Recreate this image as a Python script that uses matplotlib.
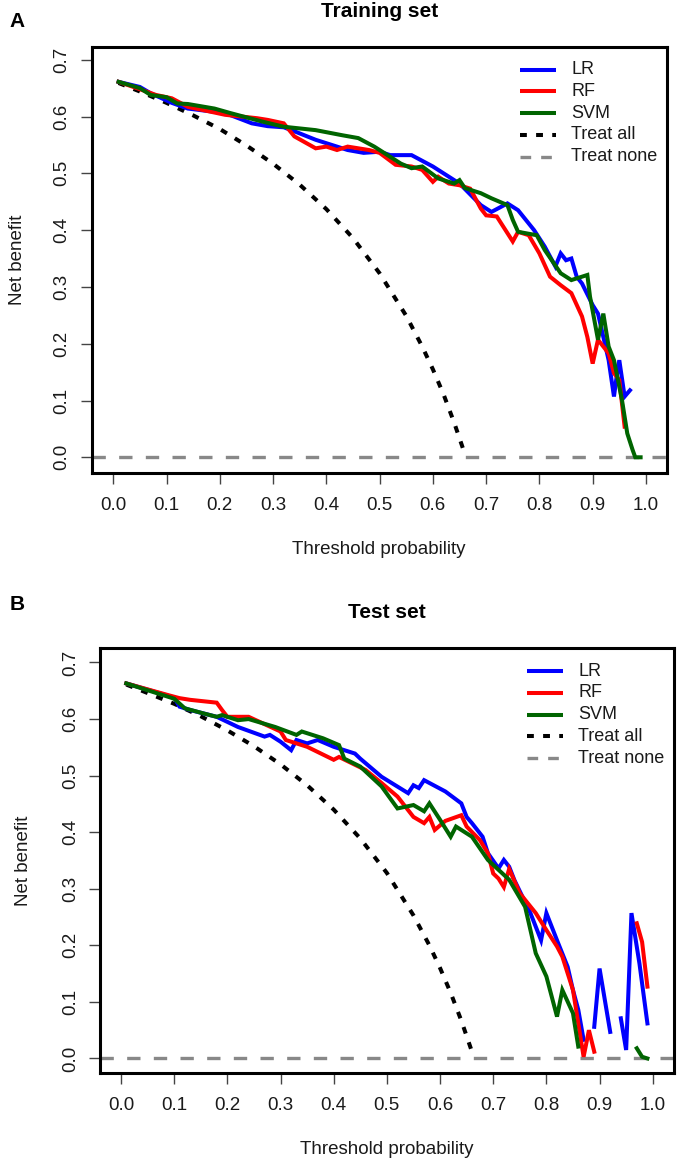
import numpy as np
import matplotlib
matplotlib.use("Agg")
import matplotlib.pyplot as plt

plt.rcParams['font.family'] = ['Liberation Sans', 'DejaVu Sans']

nan = np.nan

# ---------------- Training set ----------------
train_lr_x = [0.01, 0.05, 0.07, 0.11, 0.14, 0.21, 0.26, 0.29, 0.32, 0.34, 0.38, 0.42, 0.44, 0.47, 0.50,
              0.52, 0.56, 0.60, 0.63, 0.65, 0.69, 0.71, 0.74, 0.76, 0.79, 0.81, 0.83, 0.84, 0.85, 0.86,
              0.87, 0.88, 0.90, 0.91, 0.92, 0.93, 0.94, 0.945, 0.95, 0.96, 0.97]
train_lr_y = [0.661, 0.652, 0.641, 0.624, 0.614, 0.606, 0.588, 0.583, 0.581, 0.574, 0.559, 0.547, 0.541, 0.536, 0.538,
              0.532, 0.532, 0.512, 0.494, 0.482, 0.444, 0.432, 0.447, 0.435, 0.400, 0.371, 0.336, 0.359, 0.347, 0.350,
              0.318, 0.306, 0.268, 0.253, 0.212, 0.171, 0.107, 0.142, 0.171, 0.107, 0.118]

train_rf_x = [0.01, 0.05, 0.08, 0.11, 0.14, 0.21, 0.27, 0.29, 0.32, 0.34, 0.38, 0.40, 0.42, 0.44, 0.48,
              0.50, 0.53, 0.56, 0.58, 0.60, 0.61, 0.63, 0.65, 0.67, 0.69, 0.70, 0.72, 0.75, 0.76, 0.78,
              0.80, 0.82, 0.84, 0.86, 0.88, 0.89, 0.90, 0.91, 0.93, 0.94, 0.95, 0.96]
train_rf_y = [0.661, 0.648, 0.638, 0.632, 0.617, 0.603, 0.597, 0.594, 0.588, 0.565, 0.544, 0.547, 0.541, 0.547, 0.541,
              0.536, 0.515, 0.512, 0.506, 0.485, 0.494, 0.482, 0.479, 0.473, 0.438, 0.426, 0.424, 0.380, 0.397, 0.391,
              0.359, 0.318, 0.303, 0.289, 0.248, 0.212, 0.165, 0.207, 0.183, 0.148, 0.136, 0.054]

train_svm_x = [0.01, 0.05, 0.07, 0.10, 0.12, 0.14, 0.19, 0.22, 0.28, 0.32, 0.38, 0.43, 0.46, 0.49, 0.51,
               0.54, 0.56, 0.58, 0.61, 0.64, 0.65, 0.66, 0.69, 0.71, 0.74, 0.75, 0.76, 0.795, 0.81, 0.84,
               0.86, 0.89, 0.895, 0.91, 0.92, 0.93, 0.94, 0.955, 0.965, 0.975, 0.98, 0.99]
train_svm_y = [0.661, 0.650, 0.638, 0.634, 0.623, 0.622, 0.614, 0.606, 0.591, 0.582, 0.576, 0.567, 0.562, 0.547, 0.535,
               0.517, 0.509, 0.512, 0.491, 0.482, 0.488, 0.474, 0.465, 0.456, 0.444, 0.418, 0.397, 0.391, 0.365, 0.324,
               0.312, 0.321, 0.283, 0.207, 0.253, 0.195, 0.171, 0.101, 0.042, 0.013, 0.000, 0.000]

train_all_x = [0.01, 0.05, 0.10, 0.15, 0.20, 0.25, 0.30, 0.35, 0.40, 0.45, 0.50, 0.55, 0.58, 0.60, 0.62, 0.64, 0.66]
train_all_y = [0.659, 0.644, 0.624, 0.602, 0.578, 0.549, 0.517, 0.480, 0.437, 0.386, 0.324, 0.249, 0.195, 0.155,
               0.111, 0.061, 0.006]

# ---------------- Test set ----------------
test_lr_x = [0.01, 0.05, 0.10, 0.11, 0.13, 0.18, 0.22, 0.27, 0.28, 0.30, 0.32, 0.33, 0.35, 0.37, 0.40,
             0.44, 0.45, 0.49, 0.54, 0.55, 0.56, 0.57, 0.61, 0.64, 0.65, 0.66, 0.68, 0.69, 0.71, 0.72,
             0.73, 0.74, 0.77, 0.79, 0.80, 0.82, 0.84, 0.85, 0.86, 0.87, 0.88, 0.89, 0.90, 0.92, 0.93,
             0.94, 0.95, 0.96, 0.975, 0.99]
test_lr_y = [0.663, 0.652, 0.638, 0.622, 0.616, 0.604, 0.586, 0.569, 0.572, 0.560, 0.545, 0.563, 0.557, 0.563, 0.551,
             0.539, 0.530, 0.498, 0.469, 0.483, 0.478, 0.492, 0.472, 0.451, 0.427, 0.416, 0.392, 0.363, 0.336, 0.351,
             0.339, 0.315, 0.257, 0.209, 0.257, 0.209, 0.162, 0.121, 0.086, 0.033, nan, 0.056, 0.159, 0.047, nan,
             0.071, 0.015, 0.257, 0.168, 0.062]

test_rf_x = [0.01, 0.09, 0.11, 0.13, 0.18, 0.19, 0.20, 0.24, 0.30, 0.31, 0.35, 0.40, 0.41, 0.46, 0.49,
             0.52, 0.55, 0.57, 0.58, 0.59, 0.61, 0.64, 0.65, 0.675, 0.69, 0.70, 0.71, 0.72, 0.73, 0.75,
             0.78, 0.80, 0.82, 0.83, 0.85, 0.86, 0.87, 0.88, 0.89, 0.90, 0.97, 0.98, 0.99]
test_rf_y = [0.663, 0.642, 0.637, 0.634, 0.629, 0.616, 0.604, 0.604, 0.578, 0.563, 0.551, 0.528, 0.533, 0.510, 0.487,
             0.463, 0.427, 0.416, 0.427, 0.404, 0.420, 0.430, 0.410, 0.386, 0.363, 0.327, 0.318, 0.303, 0.335, 0.292,
             0.257, 0.227, 0.198, 0.180, 0.121, 0.062, 0.003, 0.050, 0.012, nan, 0.239, 0.206, 0.127]

test_svm_x = [0.01, 0.10, 0.12, 0.155, 0.18, 0.19, 0.22, 0.24, 0.29, 0.33, 0.34, 0.38, 0.41, 0.42, 0.45,
              0.49, 0.52, 0.55, 0.57, 0.58, 0.60, 0.62, 0.63, 0.66, 0.69, 0.73, 0.76, 0.78, 0.80, 0.82,
              0.83, 0.85, 0.86, 0.87, 0.97, 0.98, 0.99]
test_svm_y = [0.663, 0.636, 0.619, 0.610, 0.604, 0.607, 0.598, 0.600, 0.586, 0.572, 0.578, 0.566, 0.554, 0.530, 0.516,
              0.481, 0.442, 0.448, 0.437, 0.451, 0.422, 0.392, 0.410, 0.392, 0.351, 0.316, 0.268, 0.186, 0.145, 0.074,
              0.121, 0.080, 0.021, nan, 0.018, 0.003, 0.000]

test_all_x = [0.01, 0.05, 0.10, 0.15, 0.20, 0.25, 0.30, 0.35, 0.40, 0.45, 0.50, 0.55, 0.58, 0.60, 0.62, 0.64, 0.66]
test_all_y = [0.661, 0.646, 0.627, 0.605, 0.580, 0.552, 0.520, 0.483, 0.440, 0.389, 0.328, 0.253, 0.200, 0.160,
              0.116, 0.067, 0.012]

treat_none_y = 0.0

model_names = ["LR", "RF", "SVM"]
model_colors = ["#0000FF", "#FF0000", "#006400"]
ref_names = ["Treat all", "Treat none"]
x_ticks = [0.0, 0.1, 0.2, 0.3, 0.4, 0.5, 0.6, 0.7, 0.8, 0.9, 1.0]
x_ticklabels = ["0.0", "0.1", "0.2", "0.3", "0.4", "0.5", "0.6", "0.7", "0.8", "0.9", "1.0"]
y_ticks = [0.0, 0.1, 0.2, 0.3, 0.4, 0.5, 0.6, 0.7]
y_ticklabels = ["0.0", "0.1", "0.2", "0.3", "0.4", "0.5", "0.6", "0.7"]

W, H = 677, 1163
fig = plt.figure(figsize=(W / 100, H / 100), dpi=100)

LW = 2.9
ALL_DASH = (1.7, 2.3)
NONE_DASH = (4.0, 4.0)
NONE_COLOR = "#888888"
FS = 13.5


def make_panel(box, xlim, ylim, models, all_xy, title, letter, title_base, letter_base, ylab_x):
    l, t, r, b = box
    ax = fig.add_axes([l / W, 1 - b / H, (r - l) / W, (b - t) / H])
    ax.axhline(treat_none_y, color=NONE_COLOR, lw=2.4, dashes=NONE_DASH, dash_capstyle='butt', zorder=2)
    ax.plot(all_xy[0], all_xy[1], color='black', lw=LW, dashes=ALL_DASH, dash_capstyle='butt', zorder=2)
    for (mx, my), c in zip(models, model_colors):
        ax.plot(mx, my, color=c, lw=LW, solid_joinstyle='miter', zorder=3)
    ax.set_xlim(*xlim)
    ax.set_ylim(*ylim)
    ax.set_xticks(x_ticks)
    ax.set_xticklabels(x_ticklabels)
    ax.set_yticks(y_ticks)
    ax.set_yticklabels(y_ticklabels, rotation=90, va='center')
    ax.tick_params(axis='both', direction='out', length=8.2, width=1.0, color='#444444',
                   labelsize=FS, labelcolor='#1a1a1a')
    ax.tick_params(axis='x', pad=9.0)
    ax.tick_params(axis='y', pad=7.0)
    for s in ax.spines.values():
        s.set_linewidth(2.2)
        s.set_color('black')

    # legend (top-right, no frame)
    bw = r - l
    bh = b - t
    names = model_names + ref_names
    for i, name in enumerate(names):
        yy = 1 - (23.0 + 21.7 * i) / bh
        x0 = 1 - 147.0 / bw
        x1 = 1 - 111.0 / bw
        if i < 3:
            ax.plot([x0, x1], [yy, yy], transform=ax.transAxes, color=model_colors[i], lw=LW,
                    solid_capstyle='butt', clip_on=False)
        elif i == 3:
            ax.plot([x0, x1], [yy, yy], transform=ax.transAxes, color='black', lw=LW,
                    dashes=ALL_DASH, dash_capstyle='butt', clip_on=False)
        else:
            ax.plot([x0, x1], [yy, yy], transform=ax.transAxes, color=NONE_COLOR, lw=2.4,
                    dashes=(3.2, 3.0), dash_capstyle='butt', clip_on=False)
        ax.text(1 - 95.5 / bw, yy, name, transform=ax.transAxes, fontsize=13, va='center', ha='left',
                color='#1a1a1a')

    cx = (l + r) / 2
    fig.text(cx / W, 1 - title_base / H, title, fontsize=15, fontweight='bold', ha='center', va='baseline')
    fig.text(17 / W, 1 - letter_base / H, letter, fontsize=15, fontweight='bold', ha='center', va='baseline')
    fig.text(cx / W, 1 - (b + 81.0) / H, "Threshold probability", fontsize=FS, ha='center', va='baseline',
             color='#1a1a1a')
    fig.text(ylab_x / W, 1 - ((t + b) / 2) / H, "Net benefit", fontsize=FS, rotation=90, ha='center',
             va='center', color='#1a1a1a')
    return ax


make_panel((91.7, 46.7, 666.7, 472.7), (-0.0405, 1.039), (-0.0271, 0.7229),
           [(train_lr_x, train_lr_y), (train_rf_x, train_rf_y), (train_svm_x, train_svm_y)],
           (train_all_x, train_all_y), "Training set", "A", 17.3, 26.7, 18)

make_panel((100.0, 648.3, 674.0, 1073.3), (-0.0395, 1.040), (-0.0262, 0.7251),
           [(test_lr_x, test_lr_y), (test_rf_x, test_rf_y), (test_svm_x, test_svm_y)],
           (test_all_x, test_all_y), "Test set", "B", 618.3, 610.0, 24)

fig.savefig("out.png", dpi=100)
